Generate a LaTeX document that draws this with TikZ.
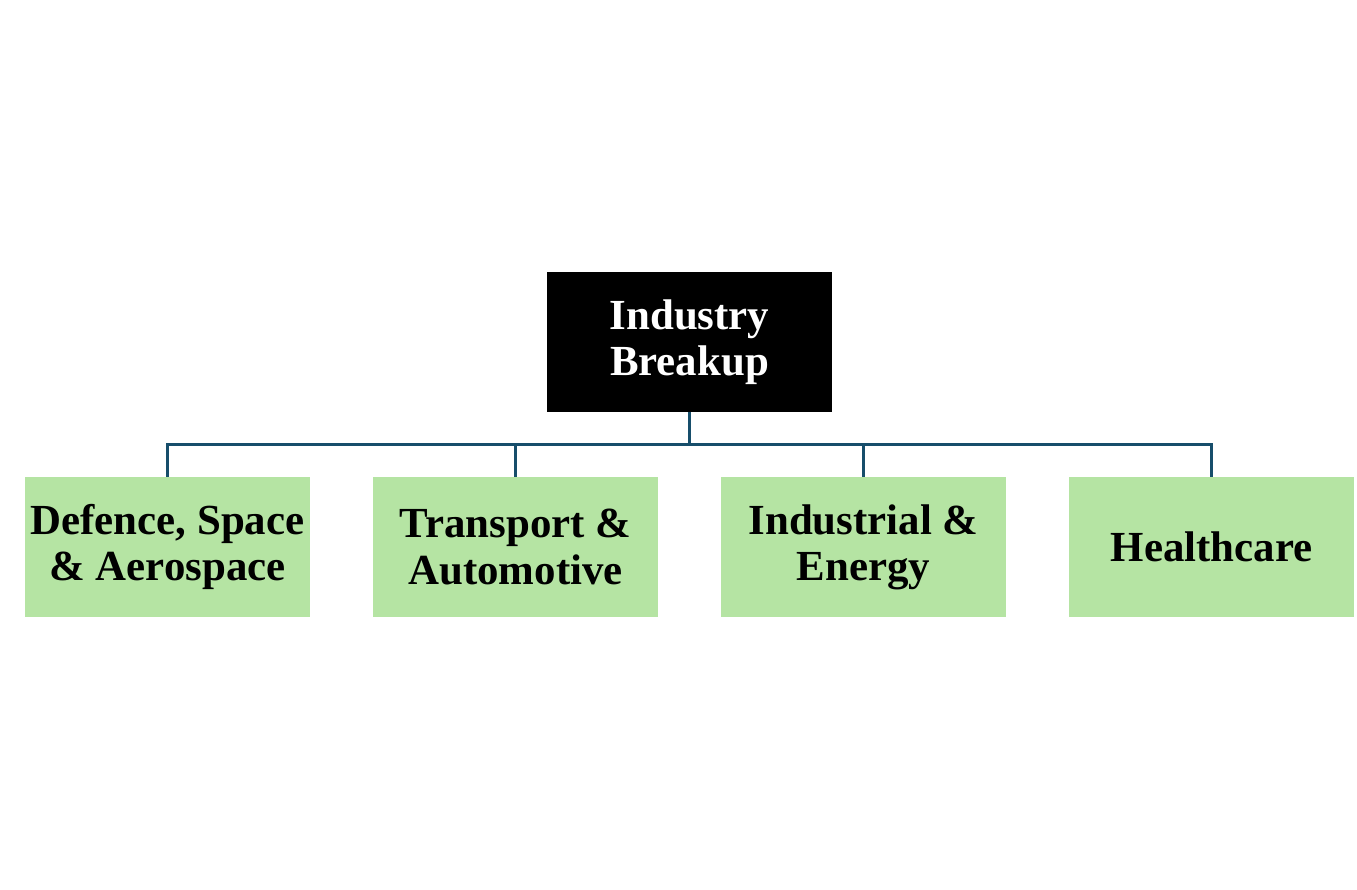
\documentclass[tikz,border=0pt]{standalone}
\usepackage{fontspec}
\setmainfont{Liberation Serif}
\usepackage{tikz}
\usetikzlibrary{positioning}
\definecolor{linkblue}{HTML}{174E6B}
\definecolor{leafgreen}{HTML}{B5E4A3}

\begin{document}
\begin{tikzpicture}[node distance=0.63cm,
    root/.style={rectangle, fill=black, text=white, font=\fontsize{12.2}{13.1}\selectfont\bfseries, align=center, minimum width=2.85cm, minimum height=1.4cm, inner sep=0pt, outer sep=0pt},
    leaf/.style={rectangle, fill=leafgreen, font=\fontsize{12.2}{13.1}\selectfont\bfseries, align=center, minimum width=2.85cm, minimum height=1.4cm, inner sep=0pt, outer sep=0pt},
    link/.style={draw=linkblue, line width=0.85pt}]

    \useasboundingbox (0,0) rectangle (13.57,-8.89);

    \node[root] (industry) at (6.895,-3.42) {Industry\\Breakup};
    \node[leaf] (defence) at (1.675,-5.47) {Defence, Space\\\& Aerospace};
    \node[leaf, right=of defence] (transport) {Transport \&\\Automotive};
    \node[leaf, right=of transport] (energy) {Industrial \&\\Energy};
    \node[leaf, right=of energy] (health) {Healthcare};

    \coordinate (bus) at ([yshift=-0.32cm]industry.south);
    \draw[link] (industry.south) -- (bus);
    \foreach \n in {defence,transport,energy,health}
        \draw[link] (bus) -| (\n.north);
\end{tikzpicture}
\end{document}
